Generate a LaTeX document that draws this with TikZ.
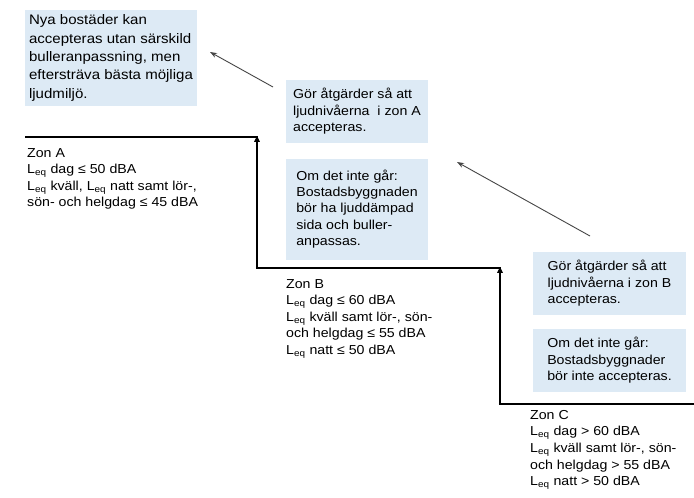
\documentclass[tikz,border=0pt]{standalone}
\usepackage{fontspec}
\setmainfont{Liberation Sans}[FakeStretch=1.09]
\usetikzlibrary{arrows.meta}
\definecolor{boxblue}{RGB}{221,234,245}
\definecolor{arrowgrey}{RGB}{70,70,70}
\tikzset{
  infobox/.style={fill=boxblue, draw=none, inner sep=0pt, align=left,
    font=\fontsize{13}{16.4}\selectfont},
  bigbox/.style={infobox, font=\fontsize{13.8}{18.3}\selectfont},
  zonetext/.style={anchor=north west, inner sep=0pt, align=left,
    font=\fontsize{13}{16.6}\selectfont},
  stair/.style={line width=2.2pt, line cap=butt},
  stairup/.style={stair, -{Triangle[length=6pt,width=5.5pt]}},
  hint/.style={arrowgrey, line width=0.9pt, -{Stealth[length=7pt,width=5pt]}}
}
\newcommand{\Leq}{L\textsubscript{eq}}
\begin{document}
\begin{tikzpicture}[x=1pt,y=-1pt]
\useasboundingbox (0,0) rectangle (694,498);
\fill[white] (0,0) rectangle (694,498);

% boxes
\node[bigbox, minimum width=172pt, minimum height=96pt] (box1) at (111,58)
  {Nya bostäder kan\\accepteras utan särskild\\bulleranpassning, men\\eftersträva bästa möjliga\\ljudmiljö.};
\node[infobox, minimum width=142pt, minimum height=63pt] (boxA1) at (357,111.5)
  {Gör åtgärder så att\\ljudnivåerna\ \ i zon A\\accepteras.};
\node[infobox, minimum width=142pt, minimum height=101pt] (boxA2) at (357,209)
  {Om det inte går:\\Bostadsbyggnaden\\bör ha ljuddämpad\\sida och buller-\\anpassas.};
\node[infobox, minimum width=153pt, minimum height=63pt] (boxB1) at (609.5,283.5)
  {Gör åtgärder så att\\ljudnivåerna i zon B\\accepteras.};
\node[infobox, minimum width=153pt, minimum height=63pt] (boxB2) at (609.5,360.5)
  {Om det inte går:\\Bostadsbyggnader\\bör inte accepteras.};

% zone texts
\node[zonetext] (zoneA) at (27,148)
  {Zon A\\\Leq{} dag ≤ 50 dBA\\\Leq{} kväll, \Leq{} natt samt lör-,\\sön- och helgdag ≤ 45 dBA};
\node[zonetext] (zoneB) at (286,279)
  {Zon B\\\Leq{} dag ≤ 60 dBA\\\Leq{} kväll samt lör-, sön-\\och helgdag ≤ 55 dBA\\\Leq{} natt ≤ 50 dBA};
\node[zonetext] (zoneC) at (530,410)
  {Zon C\\\Leq{} dag > 60 dBA\\\Leq{} kväll samt lör-, sön-\\och helgdag > 55 dBA\\\Leq{} natt > 50 dBA};

% staircase
\coordinate (sA0) at (25,137);
\coordinate (sA1) at (257,137);
\coordinate (sB0) at (257,268);
\coordinate (sB1) at (500,268);
\coordinate (sC0) at (500,404);
\coordinate (sC1) at (694,404);
\draw[stair] (sA0) -- ([xshift=1.1pt]sA1);
\draw[stairup] ([yshift=1.1pt]sB0) -- ([yshift=1.1pt]sA1);
\draw[stair] ([xshift=-1.1pt]sB0) -- ([xshift=1.1pt]sB1);
\draw[stairup] ([yshift=1.1pt]sC0) -- ([yshift=1.1pt]sB1);
\draw[stair] ([xshift=-1.1pt]sC0) -- (sC1);

% hint arrows
\coordinate (h1s) at (273,87);
\coordinate (h1e) at (210,52);
\coordinate (h2s) at (590,236);
\coordinate (h2e) at (457,162);
\draw[hint] (h1s) -- (h1e);
\draw[hint] (h2s) -- (h2e);
\end{tikzpicture}
\end{document}
